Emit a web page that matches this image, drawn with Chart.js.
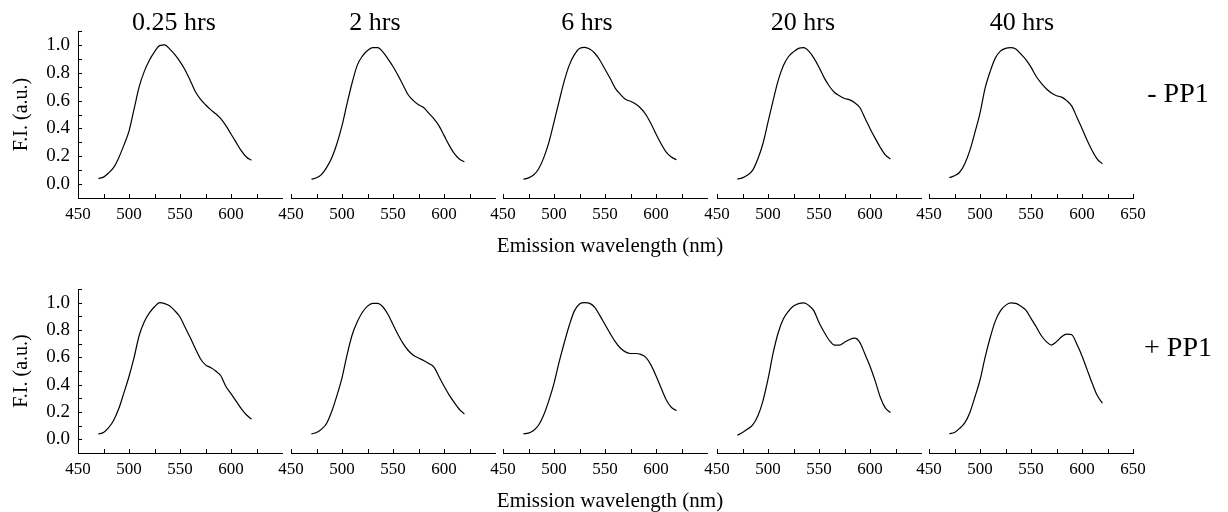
<!DOCTYPE html>
<html><head><meta charset="utf-8">
<script src="https://cdn.jsdelivr.net/npm/chart.js@4.4.1/dist/chart.umd.min.js"></script>
<style>
html,body{margin:0;padding:0;background:#fff;}
#stage{position:relative;width:1228px;height:512px;overflow:hidden;font-family:'Liberation Serif','Times New Roman',serif;color:#000;}
#stage canvas{position:absolute;}
.lbl{position:absolute;white-space:nowrap;transform:translate(-50%,-50%);line-height:1;}
</style></head>
<body><div id="stage"></div>
<script>
// ---------- data ----------
const wavelengths = [470,475,480,485,490,495,500,505,510,515,520,525,530,535,540,545,550,555,560,565,570,575,580,585,590,595,600,605,610,615,620];
const timeLabels = ['0.25 hrs','2 hrs','6 hrs','20 hrs','40 hrs'];
const rowLabels = ['- PP1','+ PP1'];
const xTickLabels = [450,500,550,600,650];
const yTickLabels = [0.0,0.2,0.4,0.6,0.8,1.0];
const xTitle = 'Emission wavelength (nm)';
const yTitle = 'F.I. (a.u.)';

const minus_025h = [0.04,0.05,0.08,0.12,0.19,0.28,0.38,0.54,0.70,0.81,0.89,0.95,0.995,1.0,0.97,0.93,0.88,0.82,0.745,0.665,0.61,0.57,0.535,0.505,0.47,0.42,0.36,0.30,0.24,0.195,0.172];
const minus_2h   = [0.035,0.045,0.07,0.12,0.19,0.29,0.42,0.58,0.73,0.855,0.92,0.96,0.98,0.98,0.95,0.90,0.845,0.78,0.71,0.64,0.60,0.57,0.55,0.51,0.47,0.42,0.35,0.28,0.22,0.18,0.16];
const minus_6h   = [0.035,0.045,0.065,0.11,0.19,0.30,0.445,0.595,0.74,0.855,0.93,0.975,0.983,0.97,0.94,0.89,0.825,0.76,0.69,0.645,0.61,0.595,0.575,0.545,0.50,0.435,0.36,0.29,0.23,0.195,0.175];
const minus_20h  = [0.036,0.045,0.065,0.10,0.18,0.29,0.445,0.60,0.745,0.85,0.915,0.95,0.975,0.98,0.955,0.905,0.84,0.765,0.705,0.66,0.635,0.615,0.605,0.585,0.55,0.475,0.40,0.33,0.265,0.21,0.18];
const minus_40h  = [0.046,0.06,0.085,0.145,0.24,0.37,0.51,0.69,0.81,0.905,0.955,0.975,0.98,0.97,0.935,0.895,0.84,0.775,0.725,0.685,0.655,0.635,0.625,0.60,0.56,0.48,0.40,0.315,0.24,0.18,0.145];

const plus_025h  = [0.04,0.05,0.085,0.14,0.225,0.34,0.46,0.60,0.76,0.86,0.925,0.97,1.0,0.993,0.975,0.94,0.895,0.82,0.745,0.665,0.59,0.545,0.525,0.50,0.465,0.387,0.335,0.28,0.225,0.18,0.148];
const plus_2h    = [0.04,0.05,0.075,0.118,0.205,0.32,0.45,0.62,0.765,0.86,0.93,0.975,0.995,0.995,0.97,0.915,0.84,0.765,0.70,0.65,0.615,0.595,0.577,0.555,0.53,0.46,0.39,0.325,0.27,0.22,0.185];
const plus_6h    = [0.04,0.045,0.065,0.105,0.18,0.285,0.41,0.565,0.705,0.835,0.94,0.99,1.0,0.995,0.965,0.905,0.84,0.775,0.715,0.668,0.64,0.628,0.628,0.622,0.60,0.545,0.465,0.375,0.29,0.235,0.21];
const plus_20h   = [0.03,0.05,0.075,0.105,0.17,0.28,0.44,0.63,0.78,0.88,0.936,0.975,0.993,0.998,0.98,0.94,0.855,0.785,0.725,0.69,0.69,0.71,0.73,0.74,0.71,0.625,0.535,0.43,0.31,0.23,0.195];
const plus_40h   = [0.042,0.05,0.08,0.12,0.195,0.31,0.434,0.60,0.745,0.865,0.94,0.98,0.998,0.995,0.975,0.945,0.885,0.825,0.76,0.715,0.69,0.715,0.75,0.77,0.765,0.695,0.61,0.51,0.41,0.32,0.265];

const rows = [
  [minus_025h, minus_2h, minus_6h, minus_20h, minus_40h],
  [plus_025h, plus_2h, plus_6h, plus_20h, plus_40h]
];

// ---------- layout ----------
const FONT = "'Liberation Serif','Times New Roman',serif";
const panelLefts = [78, 291, 503, 717, 929];
const panelWidth = 204;
const rowAreas = [[31, 198], [289, 453]];
const TOP_PAD = 10, XAXIS_H = 40, RIGHT_PAD = 24, LEFT_PAD = 20;
const titleCenters = [174, 375, 587, 803, 1022];

const stage = document.getElementById('stage');

function addLabel(text, x, y, size) {
  const d = document.createElement('div');
  d.className = 'lbl';
  d.textContent = text;
  d.style.left = x + 'px';
  d.style.top = y + 'px';
  d.style.fontSize = size + 'px';
  stage.appendChild(d);
}

const inwardTicks = {
  id: 'inwardTicks',
  afterDraw(chart, args, opts) {
    const ctx = chart.ctx;
    ctx.save();
    ctx.strokeStyle = '#000';
    ctx.lineWidth = 1;
    const xs = chart.scales.x;
    xs.ticks.forEach(t => {
      if (t.value >= 649 && !opts.lastTick) return;
      const px = Math.round(xs.getPixelForValue(t.value)) + 0.5;
      ctx.beginPath(); ctx.moveTo(px, xs.top); ctx.lineTo(px, xs.top - 4); ctx.stroke();
    });
    const ys = chart.scales.y;
    if (ys.options.display) {
      ys.ticks.forEach(t => {
        const py = Math.round(ys.getPixelForValue(t.value)) + 0.5;
        ctx.beginPath(); ctx.moveTo(ys.right, py); ctx.lineTo(ys.right + 4, py); ctx.stroke();
      });
    }
    ctx.restore();
  }
};

rows.forEach((series, r) => {
  const [aTop, aBot] = rowAreas[r];
  series.forEach((vals, i) => {
    const first = i === 0, last = i === 4;
    const leftExtra = first ? panelLefts[0] : LEFT_PAD;
    const cv = document.createElement('canvas');
    const w = leftExtra + panelWidth + RIGHT_PAD;
    const h = TOP_PAD + (aBot - aTop) + XAXIS_H;
    cv.width = w; cv.height = h;
    cv.style.left = (panelLefts[i] - leftExtra) + 'px';
    cv.style.top = (aTop - TOP_PAD) + 'px';
    cv.style.width = w + 'px'; cv.style.height = h + 'px';
    stage.appendChild(cv);

    const xLabels = last ? xTickLabels : xTickLabels.slice(0, 4);

    new Chart(cv, {
      type: 'line',
      data: {
        datasets: [{
          data: wavelengths.map((x, k) => ({x, y: vals[k]})),
          borderColor: '#000',
          borderWidth: 1.2,
          pointRadius: 0,
          cubicInterpolationMode: 'monotone',
          fill: false
        }]
      },
      options: {
        responsive: false,
        animation: false,
        devicePixelRatio: 1,
        layout: { padding: { top: TOP_PAD, left: first ? 0 : LEFT_PAD, right: RIGHT_PAD, bottom: 0 } },
        plugins: { legend: { display: false }, tooltip: { enabled: false }, title: { display: false },
                   inwardTicks: { lastTick: last } },
        scales: {
          x: {
            type: 'linear', min: 450, max: 650,
            afterFit: s => { s.height = XAXIS_H; s.paddingLeft = 0; s.paddingRight = 0; },
            grid: { display: true, drawOnChartArea: false, drawTicks: false },
            border: { display: true, color: '#000', width: 1 },
            ticks: {
              stepSize: 25, maxTicksLimit: 100, autoSkip: false, maxRotation: 0, padding: 6,
              color: '#000', font: { family: FONT, size: 17 },
              callback: v => xLabels.includes(Math.round(v)) ? String(Math.round(v)) : ''
            }
          },
          y: {
            type: 'linear', min: -0.1, max: 1.1,
            display: first,
            afterFit: s => { if (first) s.width = panelLefts[0]; s.paddingTop = 0; s.paddingBottom = 0; },
            grid: { display: true, drawOnChartArea: false, drawTicks: false },
            border: { display: true, color: '#000', width: 1 },
            ticks: {
              stepSize: 0.1, maxTicksLimit: 100, autoSkip: false, padding: 8,
              color: '#000', font: { family: FONT, size: 19 },
              callback: v => {
                const k = Math.round(v * 10);
                const lab = yTickLabels.find(t => Math.round(t * 10) === k);
                return lab === undefined ? '' : lab.toFixed(1);
              }
            },
            title: {
              display: true, text: yTitle, color: '#000',
              font: { family: FONT, size: 20 }, padding: { top: 10, bottom: 0 }
            }
          }
        }
      },
      plugins: [inwardTicks]
    });
  });
});

timeLabels.forEach((t, i) => addLabel(t, titleCenters[i], 22, 26));
addLabel(rowLabels[0], 1178, 93, 28);
addLabel(rowLabels[1], 1178, 347, 28);
addLabel(xTitle, 610, 245, 21);
addLabel(xTitle, 610, 500, 21);
</script></body></html>
